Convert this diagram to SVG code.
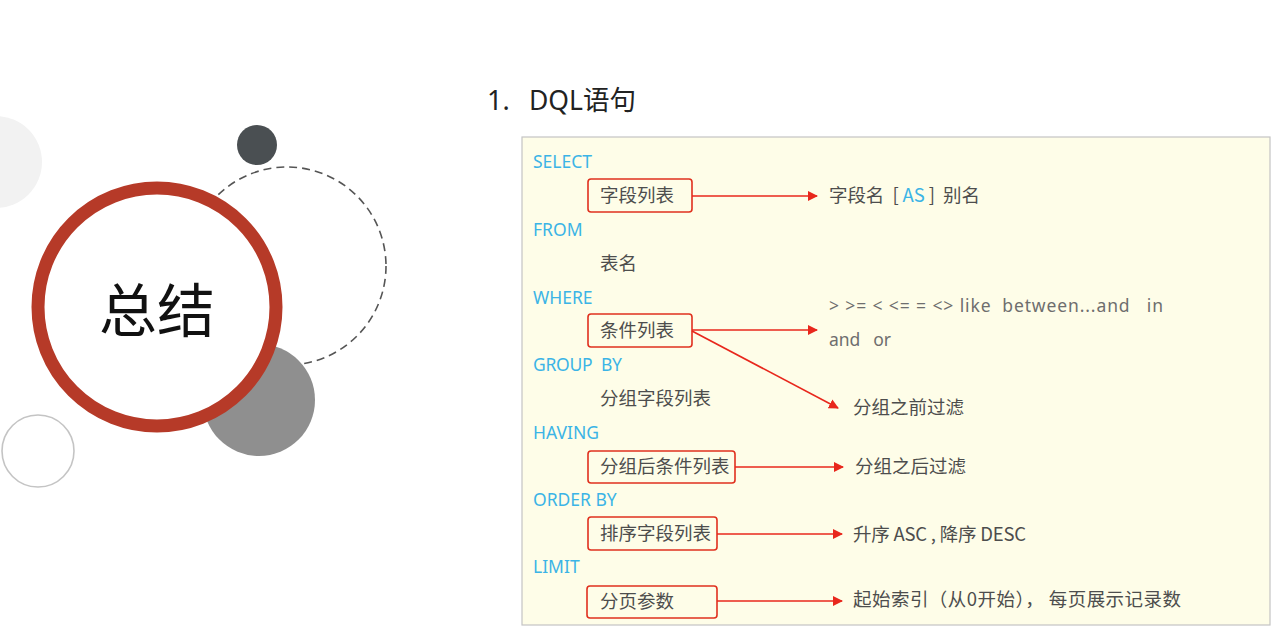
<svg xmlns="http://www.w3.org/2000/svg" width="1284" height="637" viewBox="0 0 1284 637">
<defs>
<marker id="arr" viewBox="0 0 10 10" refX="9" refY="5" markerWidth="10" markerHeight="10" markerUnits="userSpaceOnUse" orient="auto">
<path d="M0,0 L10,5 L0,10 z" fill="#e8271c"/>
</marker>
<style>
text{white-space:pre}
.kw{font-family:"Noto Sans","Noto Sans CJK SC",sans-serif;font-size:17.5px;fill:#3bb4e6}
.tx{font-family:"Noto Sans CJK SC","Noto Sans",sans-serif;font-size:18.5px;fill:#4d4d4d}
.op{font-family:"Noto Sans","Noto Sans CJK SC",sans-serif;font-size:17.5px;fill:#6e6e6e}
.rb{fill:none;stroke:#e0301e;stroke-width:1.6}
.ln{stroke:#e8271c;stroke-width:1.6;fill:none;marker-end:url(#arr)}
</style>
</defs>
<rect width="1284" height="637" fill="#ffffff"/>
<g id="decor">
<circle cx="-4" cy="162" r="46" fill="#f2f2f2"/>
<circle cx="257" cy="145" r="20" fill="#4a4f52"/>
<circle cx="287" cy="266" r="99" fill="none" stroke="#555" stroke-width="1.6" stroke-dasharray="8 5"/>
<circle cx="259" cy="400" r="56" fill="#8f8f8f"/>
<circle cx="38" cy="451" r="36" fill="none" stroke="#c4c4c4" stroke-width="1.6"/>
<circle cx="157" cy="307" r="119" fill="#ffffff" stroke="#b63a28" stroke-width="13"/>
<text x="157" y="332" text-anchor="middle" font-family="Noto Sans CJK SC, sans-serif" font-size="58" fill="#111">总结</text>
</g>
<g id="title">
<text x="487" y="110" font-family="Noto Sans, Noto Sans CJK SC, sans-serif" font-size="27" fill="#222">1.</text>
<text x="529" y="110" font-family="Noto Sans, Noto Sans CJK SC, sans-serif" font-size="27" fill="#222" textLength="107" lengthAdjust="spacingAndGlyphs">DQL语句</text>
</g>
<g id="panel">
<rect x="522" y="137" width="748" height="488" fill="#fefde8" stroke="#c4c4c4" stroke-width="1.2"/>
</g>
<g id="keywords">
<text class="kw" x="533" y="168">SELECT</text>
<text class="kw" x="533" y="236">FROM</text>
<text class="kw" x="533" y="304">WHERE</text>
<text class="kw" x="533" y="371" textLength="89">GROUP  BY</text>
<text class="kw" x="533" y="439">HAVING</text>
<text class="kw" x="533" y="506">ORDER BY</text>
<text class="kw" x="533" y="573">LIMIT</text>
</g>
<g id="n-fields"><rect class="rb" x="588" y="179" width="104" height="33" rx="3"/><text class="tx" x="600" y="202">字段列表</text></g>
<g id="n-table"><text class="tx" x="600" y="270">表名</text></g>
<g id="n-cond"><rect class="rb" x="588" y="314" width="104" height="33" rx="3"/><text class="tx" x="600" y="337">条件列表</text></g>
<g id="n-groupfields"><text class="tx" x="600" y="405">分组字段列表</text></g>
<g id="n-having"><rect class="rb" x="588" y="451" width="147" height="32" rx="3"/><text class="tx" x="600" y="473">分组后条件列表</text></g>
<g id="n-order"><rect class="rb" x="588" y="517" width="129" height="33" rx="3"/><text class="tx" x="600" y="540">排序字段列表</text></g>
<g id="n-limit"><rect class="rb" x="587" y="586" width="130" height="32" rx="3"/><text class="tx" x="600" y="608">分页参数</text></g>
<g id="r-alias"><text class="tx" x="829" y="202" textLength="151">字段名  [ <tspan fill="#3bb4e6">AS</tspan> ]  别名</text></g>
<g id="r-ops"><text class="op" x="829" y="312" textLength="334">&gt; &gt;= &lt; &lt;= = &lt;&gt; like  between...and   in</text><text class="op" x="829" y="346" textLength="62">and   or</text></g>
<g id="r-before"><text class="tx" x="853" y="414">分组之前过滤</text></g>
<g id="r-after"><text class="tx" x="855" y="473">分组之后过滤</text></g>
<g id="r-sort"><text class="tx" x="853" y="541" textLength="173">升序 ASC , 降序 DESC</text></g>
<g id="r-page"><text class="tx" x="853" y="606" textLength="328">起始索引（从0开始）， 每页展示记录数</text></g>
<g id="connectors">
<line class="ln" x1="692" y1="196" x2="817" y2="196"/>
<line class="ln" x1="692" y1="330" x2="817" y2="330"/>
<line class="ln" x1="692" y1="331" x2="838" y2="408"/>
<line class="ln" x1="735" y1="467" x2="843" y2="467"/>
<line class="ln" x1="717" y1="534" x2="842" y2="534"/>
<line class="ln" x1="717" y1="601" x2="842" y2="601"/>
</g>
</svg>
